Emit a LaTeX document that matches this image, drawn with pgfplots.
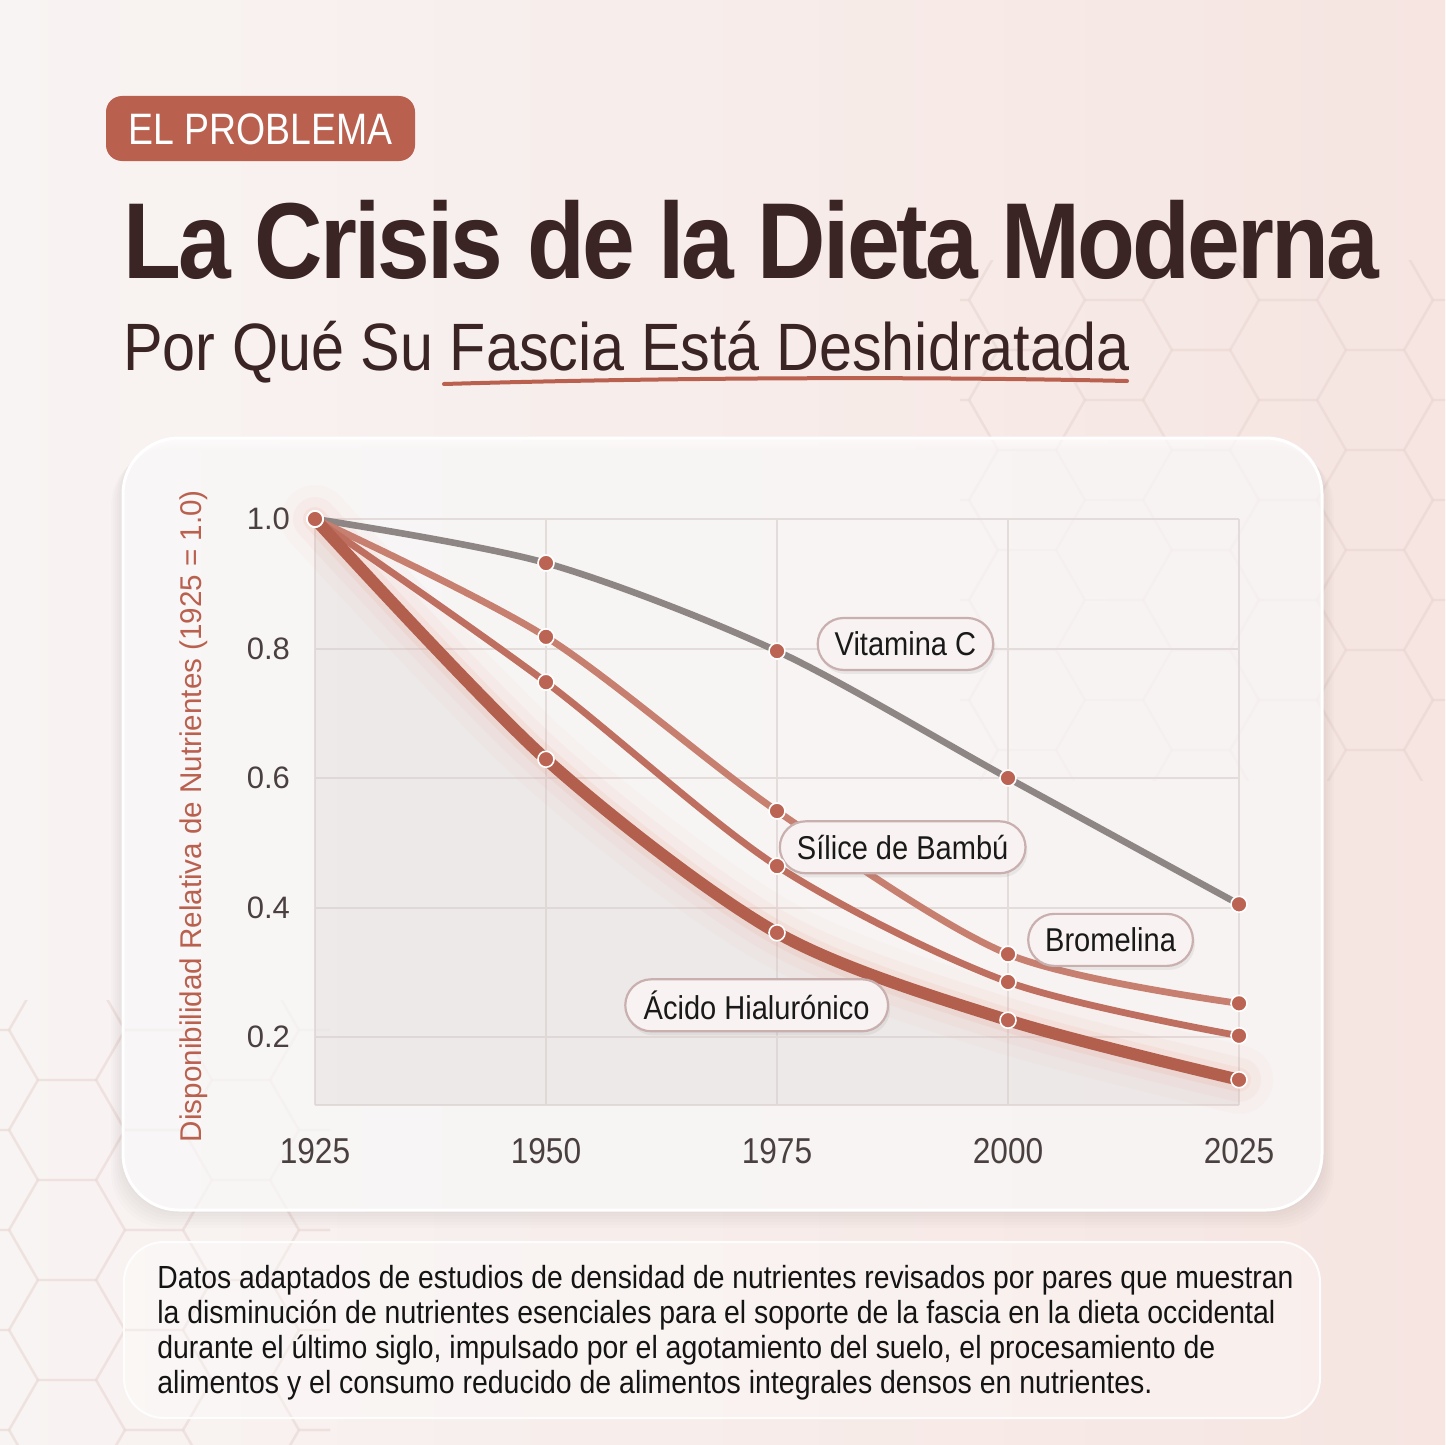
\documentclass[border=0pt]{standalone}
\usepackage{pgfplots}
\pgfplotsset{compat=1.18}
\usepackage{pgfplotstable}
\usepackage{fontspec}
\usetikzlibrary{shapes.misc,shadows}
\setmainfont{Liberation Sans}
\newfontfamily\cond{Liberation Sans}[FakeStretch=0.88]
\newfontfamily\headfont{Liberation Sans}[LetterSpace=-3]

\definecolor{bgL}{HTML}{F8F4F3}
\definecolor{bgR}{HTML}{F6E5E1}
\definecolor{ink}{HTML}{3A2424}
\definecolor{brick}{HTML}{B9604F}
\definecolor{tickc}{HTML}{4A4040}
\definecolor{gridc}{HTML}{E4DCDB}
\definecolor{vitc}{HTML}{8E8684}
\definecolor{lsil}{HTML}{C77F70}
\definecolor{lbro}{HTML}{BE6F5F}
\definecolor{laci}{HTML}{B25F4E}
\definecolor{markc}{HTML}{BC6454}
\definecolor{glow}{HTML}{EC8A76}
\definecolor{hexc}{HTML}{E9D6D2}
\definecolor{pillfill}{HTML}{F8F2F2}
\definecolor{pilldraw}{HTML}{C9B0AF}
\definecolor{washc}{HTML}{D8D0D0}

% relative nutrient availability, 1925 = 1.0
\pgfplotstableread{
year vitc silice bromel acido
1925 1.000 1.000 1.000 1.000
1950 0.932 0.818 0.748 0.629
1975 0.796 0.549 0.464 0.361
2000 0.600 0.328 0.285 0.226
2025 0.405 0.252 0.202 0.134
}\nutri

\newcommand\fitw[2]{\resizebox{#1}{\height}{#2}}

\begin{document}
\begin{tikzpicture}
% layout drawn in pixel-like units, origin top-left, y downwards
\begin{scope}[x=0.5pt,y=-0.5pt]
\useasboundingbox (0,0) rectangle (1445,1445);
% background
\shade[left color=bgL, right color=bgR] (0,0) rectangle (1445,1445);

% faint honeycomb decoration
\begin{scope}
  \clip (960,260) rectangle (1445,780);
  \foreach \c in {0,...,7}{
    \foreach \r in {0,...,6}{
      \pgfmathsetmacro\cx{940+87*\c}
      \pgfmathsetmacro\cy{250+100*\r+50*mod(\c,2)}
      \draw[hexc, line width=1.2pt, opacity=0.35]
        (\cx,\cy) +(0:58) -- +(60:58) -- +(120:58) -- +(180:58) -- +(240:58) -- +(300:58) -- cycle;
    }
  }
\end{scope}
\begin{scope}
  \clip (0,1000) rectangle (330,1445);
  \foreach \c in {0,...,4}{
    \foreach \r in {0,...,5}{
      \pgfmathsetmacro\cx{-20+87*\c}
      \pgfmathsetmacro\cy{980+100*\r+50*mod(\c,2)}
      \draw[hexc, line width=1.2pt, opacity=0.35]
        (\cx,\cy) +(0:58) -- +(60:58) -- +(120:58) -- +(180:58) -- +(240:58) -- +(300:58) -- cycle;
    }
  }
\end{scope}

% badge
\fill[brick, rounded corners=8] (106,96) rectangle (415,161);
\node[anchor=base west, inner sep=0, text=white] at (128,144)
  {\fitw{132pt}{\fontsize{22}{22}\selectfont EL PROBLEMA}};

% title and subtitle
\node[anchor=base west, inner sep=0, text=ink] at (123,278)
  {\fitw{628pt}{\headfont\fontsize{54}{54}\selectfont\bfseries La Crisis de la Dieta Moderna}};
\node[anchor=base west, inner sep=0, text=ink] at (123,370)
  {\fitw{503pt}{\fontsize{33.5}{33.5}\selectfont Por Qué Su Fascia Está Deshidratada}};
\draw[brick, line width=2pt, line cap=round]
  (444,384) .. controls (650,378) and (900,376) .. (1127,381);

% chart card with soft shadow
\foreach \k in {1,...,6}{
  \fill[black, opacity=0.012, rounded corners=28]
    (123-2*\k,438+2*\k) rectangle (1322+2*\k,1210+3*\k);
}
\fill[white, opacity=0.72, rounded corners=28] (123,438) rectangle (1322,1210);
\draw[white, line width=1.5pt, rounded corners=28] (123,438) rectangle (1322,1210);

% caption box
\fill[white, opacity=0.35, rounded corners=20] (124,1242) rectangle (1320,1418);
\draw[white, opacity=0.9, line width=1pt, rounded corners=20] (124,1242) rectangle (1320,1418);

% y axis title
\node[rotate=90, text=brick, inner sep=0] at (194,816)
  {\fitw{326pt}{\fontsize{15}{15}\selectfont Disponibilidad Relativa de Nutrientes (1925 = 1.0)}};

% caption text
\begin{scope}[every node/.style={anchor=base west, inner sep=0, text=black!92,
    font=\cond\fontsize{16}{16}\selectfont}]
\node at (157,1288) {\fitw{568pt}{Datos adaptados de estudios de densidad de nutrientes revisados por pares que muestran}};
\node at (157,1323) {\fitw{559pt}{la disminución de nutrientes esenciales para el soporte de la fascia en la dieta occidental}};
\node at (157,1358) {\fitw{529pt}{durante el último siglo, impulsado por el agotamiento del suelo, el procesamiento de}};
\node at (157,1393) {\fitw{497.5pt}{alimentos y el consumo reducido de alimentos integrales densos en nutrientes.}};
\end{scope}
\end{scope}

\begin{axis}[
  at={(157.5pt,-552.5pt)}, anchor=south west,
  scale only axis, width=462pt, height=293pt,
  xmin=1925, xmax=2025, ymin=0.095, ymax=1.0,
  clip=false,
  axis lines*=left,
  axis line style={gridc, line width=1pt},
  xtick={1925,1950,1975,2000,2025},
  xticklabels={1925,1950,1975,2000,2025},
  ytick={0.2,0.4,0.6,0.8,1.0},
  yticklabels={0.2,0.4,0.6,0.8,1.0},
  major tick length=0pt,
  grid=major,
  major grid style={gridc, line width=1pt},
  xticklabel style={font=\cond\fontsize{18}{18}\selectfont, text=tickc, yshift=-13pt},
  yticklabel style={font=\fontsize{15.5}{15.5}\selectfont, text=tickc, xshift=-9pt},
]
% light grey wash beneath the lowest curve
\addplot[draw=none, fill=washc, fill opacity=0.3, smooth]
  table[x=year, y=acido]{\nutri} \closedcycle;

% reddish halo around the steepest decline
\addplot[glow, line width=34pt, opacity=0.035, smooth, line cap=round] table[x=year, y=acido]{\nutri};
\addplot[glow, line width=22pt, opacity=0.06, smooth, line cap=round] table[x=year, y=acido]{\nutri};
\addplot[glow, line width=12pt, opacity=0.10, smooth, line cap=round] table[x=year, y=acido]{\nutri};

\addplot[vitc, line width=3.3pt, smooth, mark=*, mark size=4pt,
  mark options={fill=markc, draw=white, line width=0.8pt}]
  table[x=year, y=vitc]{\nutri};
\addplot[lsil, line width=3.4pt, smooth, mark=*, mark size=4pt,
  mark options={fill=markc, draw=white, line width=0.8pt}]
  table[x=year, y=silice]{\nutri};
\addplot[lbro, line width=3.4pt, smooth, mark=*, mark size=4pt,
  mark options={fill=markc, draw=white, line width=0.8pt}]
  table[x=year, y=bromel]{\nutri};
\addplot[laci, line width=6pt, smooth, mark=*, mark size=4pt,
  mark options={fill=markc, draw=white, line width=0.8pt}]
  table[x=year, y=acido]{\nutri};

\tikzset{pill/.style={rounded rectangle, fill=pillfill, draw=pilldraw, line width=1.1pt,
  minimum height=26pt, inner xsep=7pt, text=black!90,
  font=\cond\fontsize{16.5}{16.5}\selectfont,
  drop shadow={opacity=0.12, shadow xshift=1pt, shadow yshift=-2pt}}}
\node[pill] at (axis cs:1988.9,0.807) {Vitamina C};
\node[pill] at (axis cs:1988.6,0.493) {Sílice de Bambú};
\node[pill] at (axis cs:2011.1,0.350) {Bromelina};
\node[pill] at (axis cs:1972.8,0.249) {Ácido Hialurónico};
\end{axis}
\end{tikzpicture}
\end{document}
